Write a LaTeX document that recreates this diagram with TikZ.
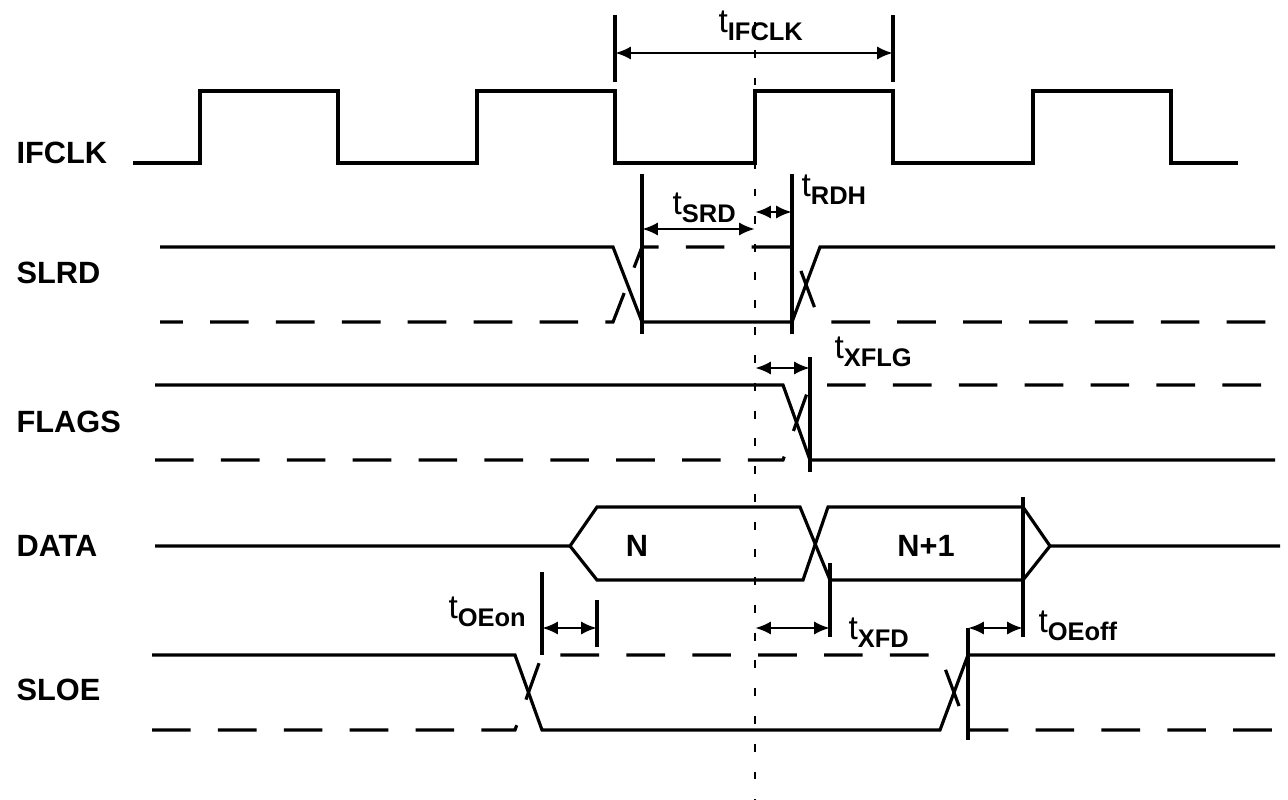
\documentclass[tikz,border=0pt]{standalone}
\usepackage{fontspec}
\setmainfont{Liberation Sans}
\usetikzlibrary{arrows.meta}

\newcommand{\tname}[1]{\fontsize{19}{21}\selectfont t\raisebox{-0.45ex}{\fontsize{14.5}{16}\selectfont\bfseries #1}}

\begin{document}
\begin{tikzpicture}[x=0.02cm, y=-0.02cm, line width=1.8pt]

  \tikzstyle{signame} = [anchor=west, inner sep=0pt, font=\fontsize{17.5}{20}\selectfont\bfseries]
  \tikzstyle{tlabel} = [anchor=west, inner sep=0pt]
  \tikzstyle{other} = [dash pattern=on 22pt off 15.5pt]
  \tikzstyle{refline} = [line width=1.5pt, dash pattern=on 4.5pt off 11.3pt]
  \tikzstyle{dim} = [line width=1.6pt, {Latex[length=9pt,width=7.5pt]}-{Latex[length=9pt,width=7.5pt]}]

%	\tikzstyle{every node}=[font=\sffamily]

  \useasboundingbox (0,0) rectangle (1288,800);

  % signal names
  \node [signame] (ifclk) at (15,153) {IFCLK};
  \node [signame] (slrd) at (15,273) {SLRD};
  \node [signame] (flags) at (15,422) {FLAGS};
  \node [signame] (data) at (15,546) {DATA};
  \node [signame] (sloe) at (15,690) {SLOE};

  % reference edge
  \draw [refline] (755,22) -- (755,800);

  % IFCLK
  \draw (133,163) -- (200,163) -- (200,91) -- (338,91) -- (338,163) -- (477,163) -- (477,91) -- (615,91) -- (615,163)
        -- (755,163) -- (755,91) -- (893,91) -- (893,163) -- (1033,163) -- (1033,91) -- (1171,91) -- (1171,163) -- (1238,163);
  \draw (615,15) -- (615,82);
  \draw (893,15) -- (893,82);
  \coordinate (clk_a) at (615,53);
  \coordinate (clk_b) at (893,53);
  \path [draw, dim] (clk_a) -- (clk_b);
  \node [tlabel] (t_ifclk) at (717,26) {\tname{IFCLK}};

  % SLRD
  \draw (160,247) -- (613,247) -- (642,322) -- (792,322) -- (820,247) -- (1275,247);
  \draw [other, dash phase=9pt] (160,322) -- (613,322) -- (642,247) -- (792,247) -- (820,322) -- (1275,322);
  \draw (642,174) -- (642,334);
  \draw (792,174) -- (792,334);
  \coordinate (srd_a) at (642,229);
  \coordinate (srd_b) at (755,229);
  \coordinate (rdh_a) at (755,212);
  \coordinate (rdh_b) at (792,212);
  \path [draw, dim] (srd_a) -- (srd_b);
  \path [draw, dim] (rdh_a) -- (rdh_b);
  \node [tlabel] (t_srd) at (671,208) {\tname{SRD}};
  \node [tlabel] (t_rdh) at (800,190) {\tname{RDH}};

  % FLAGS
  \draw (155,385) -- (783,385) -- (810,460) -- (1275,460);
  \draw [other] (155,460) -- (783,460) -- (810,385) -- (1275,385);
  \draw (810,357) -- (810,472);
  \coordinate (xflg_a) at (755,368);
  \coordinate (xflg_b) at (810,368);
  \path [draw, dim] (xflg_a) -- (xflg_b);
  \node [tlabel] (t_xflg) at (833,352) {\tname{XFLG}};

  % DATA
  \draw (155,546) -- (570,546) -- (597,507) -- (800,507) -- (830,580) -- (1023,580) -- (1050,546) -- (1280,546);
  \draw (570,546) -- (597,580) -- (803,580) -- (828,507) -- (1023,507) -- (1050,546);
  \node [font=\fontsize{17.5}{20}\selectfont\bfseries] (word_n) at (637,546) {N};
  \node [font=\fontsize{17.5}{20}\selectfont\bfseries] (word_n1) at (926,546) {N+1};
  \draw (1023,497) -- (1023,637);
  \draw (830,563) -- (830,637);
  \coordinate (xfd_a) at (755,628);
  \coordinate (xfd_b) at (830,628);
  \path [draw, dim] (xfd_a) -- (xfd_b);
  \node [tlabel] (t_xfd) at (847,633) {\tname{XFD}};

  % SLOE
  \draw (152,655) -- (515,655) -- (542,730) -- (940,730) -- (968,655) -- (1275,655);
  \draw [other] (152,730) -- (515,730) -- (542,655) -- (940,655) -- (968,730) -- (1275,730);
  \draw (542,572) -- (542,655);
  \draw (597,600) -- (597,647);
  \draw (968,628) -- (968,740);
  \coordinate (oeon_a) at (542,628);
  \coordinate (oeon_b) at (597,628);
  \coordinate (oeoff_a) at (968,628);
  \coordinate (oeoff_b) at (1023,628);
  \path [draw, dim] (oeon_a) -- (oeon_b);
  \path [draw, dim] (oeoff_a) -- (oeoff_b);
  \node [tlabel] (t_oeon) at (447,612) {\tname{OEon}};
  \node [tlabel] (t_oeoff) at (1037,626) {\tname{OEoff}};

\end{tikzpicture}
\end{document}
